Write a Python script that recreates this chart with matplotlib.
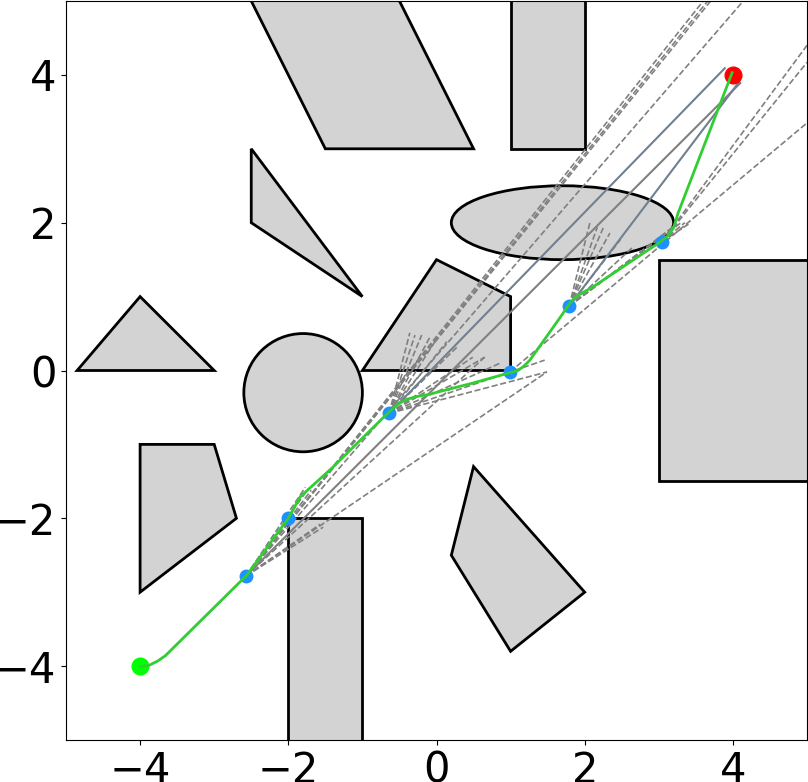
import matplotlib

matplotlib.use("Agg")
import matplotlib.pyplot as plt
from matplotlib.patches import Circle, Ellipse, Polygon, Rectangle

# obstacles
polygons = [
    [(-2.6, 5.2), (-0.6, 5.2), (0.5, 3.0), (-1.5, 3.0)],
    [(-2.5, 3.0), (-2.5, 2.0), (-1.0, 1.0)],
    [(-1.0, 0.0), (0.0, 1.5), (1.0, 1.0), (1.0, 0.0)],
    [(-4.85, 0.0), (-4.0, 1.0), (-3.0, 0.0)],
    [(-4.0, -1.0), (-3.0, -1.0), (-2.7, -2.0), (-4.0, -3.0)],
    [(0.5, -1.3), (0.2, -2.5), (1.0, -3.8), (2.0, -3.0)],
]
rects = [  # x, y, width, height
    (1.0, 3.0, 1.0, 2.5),
    (-2.0, -5.5, 1.0, 3.5),
    (3.0, -1.5, 2.5, 3.0),
]
circle_center, circle_r = (-1.8, -0.3), 0.8
ellipse_center, ellipse_w, ellipse_h = (1.7, 2.0), 3.0, 1.0

start = (-4.0, -4.0)
goal = (4.0, 4.0)
waypoints_x = [-2.57, -2.0, -0.64, 0.99, 1.79, 3.04]
waypoints_y = [-2.78, -2.0, -0.58, -0.02, 0.87, 1.74]

path_x = [-4.0, -3.88, -3.76, -3.66, -2.56, -2.0, -1.84, -1.40, -0.65, -0.53,
          -0.40, -0.26, -0.13, 0.49, 0.99, 1.10, 1.18, 1.26, 1.67, 1.80, 1.86,
          1.95, 2.11, 3.02, 3.12, 3.20, 3.26, 3.99]
path_y = [-4.01, -3.99, -3.93, -3.86, -2.77, -2.0, -1.71, -1.31, -0.57, -0.46,
          -0.39, -0.35, -0.33, -0.17, -0.03, 0.0, 0.06, 0.14, 0.72, 0.91, 0.98,
          1.04, 1.13, 1.74, 1.82, 1.93, 2.13, 4.03]

# candidate rays (dashed): source waypoint index -> end points
ray_src = [0, 0, 0, 0, 0, 0, 0, 0, 0, 0, 0,
           2, 2, 2, 2, 2, 2, 2, 2, 2, 2, 2, 2,
           3,
           4, 4, 4, 4, 4, 4, 4, 4, 4,
           5, 5, 5, 5]
ray_end_x = [-1.77, -1.73, -1.69, -1.57, -1.53, 0.65, 1.49, 3.60, 3.66, 3.70,
             4.14,
             -0.36, -0.29, -0.20, -0.09, 0.01, 0.14, 0.28, 0.49, 0.65, 0.86,
             1.46, 1.49,
             5.0,
             2.07, 2.17, 2.25, 2.34, 2.48, 2.65, 3.20, 3.25, 3.30,
             5.0, 5.0, 3.35, 3.40]
ray_end_y = [-1.58, -1.60, -1.62, -2.08, -2.12, 0.18, -0.02, 5.0, 5.0, 5.0,
             5.0,
             0.51, 0.48, 0.48, 0.45, 0.44, 0.39, 0.32, 0.18, 0.18, 0.10,
             0.14, -0.02,
             3.35,
             2.00, 1.94, 1.93, 1.86, 1.77, 1.67, 1.95, 1.98, 2.00,
             4.40, 4.17, 2.00, 1.98]

# selected rays (solid)
sel_src = [2, 0, 4]
sel_end_x = [3.89, 4.10, 4.08]
sel_end_y = [4.09, 3.89, 3.90]
sel_colors = ["slategray", "gray", "slategray"]


def main() -> None:
    fig = plt.figure(figsize=(8.08, 7.82), dpi=100)
    ax = fig.add_axes([66 / 808, 42 / 782, 741 / 808, 739 / 782])

    style = dict(facecolor="lightgray", edgecolor="black", linewidth=2, zorder=1)
    for pts in polygons:
        ax.add_patch(Polygon(pts, closed=True, **style))
    for x, y, w, h in rects:
        ax.add_patch(Rectangle((x, y), w, h, **style))
    ax.add_patch(Circle(circle_center, circle_r, **style))
    ax.add_patch(Ellipse(ellipse_center, ellipse_w, ellipse_h, **style))

    for i, ex, ey in zip(ray_src, ray_end_x, ray_end_y):
        ax.plot([waypoints_x[i], ex], [waypoints_y[i], ey], "--",
                color="gray", linewidth=1.2, zorder=2)
    for i, ex, ey, c in zip(sel_src, sel_end_x, sel_end_y, sel_colors):
        ax.plot([waypoints_x[i], ex], [waypoints_y[i], ey], "-",
                color=c, linewidth=1.5, zorder=3)

    ax.plot(waypoints_x, waypoints_y, "o", color="dodgerblue", markersize=9, zorder=4)
    ax.plot(*start, "o", color="lime", markersize=12, zorder=4)
    ax.plot(*goal, "o", color="red", markersize=12, zorder=4)
    ax.plot(path_x, path_y, "-", color="limegreen", linewidth=2, zorder=5)

    ax.set_xlim(-5, 5)
    ax.set_ylim(-5, 5)
    ax.set_xticks([-4, -2, 0, 2, 4])
    ax.set_yticks([-4, -2, 0, 2, 4])
    ax.tick_params(labelsize=30)

    fig.savefig("out.png", dpi=100)
    plt.close(fig)


if __name__ == "__main__":
    main()
